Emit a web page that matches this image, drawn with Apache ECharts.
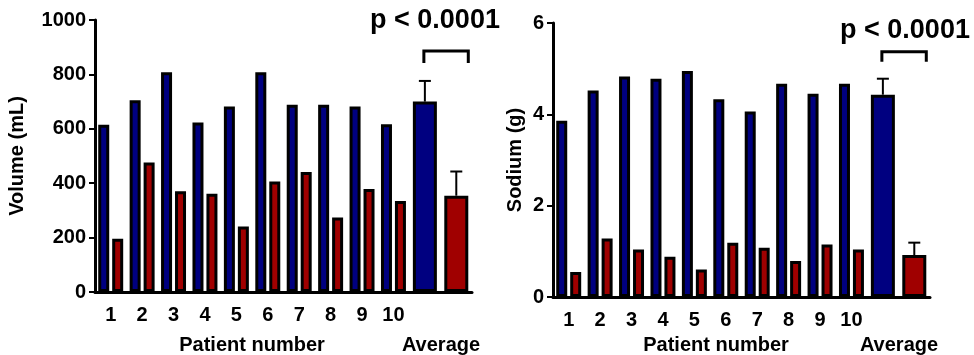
<!DOCTYPE html>
<html lang="en" style="height: 100%">
<head>
    <meta charset="UTF-8">
    <title>Volume and sodium per patient</title>
    <script src="https://cdn.jsdelivr.net/npm/echarts@6/dist/echarts.min.js"></script>
</head>
<body style="height: 100%; margin: 0; background: #fff">
<div id="main" style="width: 974px; height: 355px"></div>
<script>
    // patients 1..10 then two slots for the averages
    var patients = ['1', '2', '3', '4', '5', '6', '7', '8', '9', '10'];
    var categories = patients.concat(['', '']);

    var volumeBlue = [615, 705, 808, 623, 682, 808, 688, 688, 682, 617];
    var volumeRed = [196, 476, 370, 361, 241, 406, 441, 274, 379, 335];
    var volumeAvg = [700, 354];
    var volumeSd = [76, 89];
    var volumeBracket = [886, 842];

    var sodiumBlue = [3.86, 4.52, 4.83, 4.78, 4.95, 4.33, 4.06, 4.67, 4.45, 4.67];
    var sodiumRed = [0.55, 1.28, 1.04, 0.88, 0.60, 1.19, 1.08, 0.79, 1.15, 1.04];
    var sodiumAvg = [4.43, 0.92];
    var sodiumSd = [0.35, 0.27];
    var sodiumBracket = [5.37, 5.15];

    var pText = 'p < 0.0001';

    var BLUE = '#000080', RED = '#a00000';
    var FONT = 'Liberation Sans';

    function renderErr(params, api) {
        var base = api.coord([api.value(0), api.value(1)]);
        var top = api.coord([api.value(0), api.value(2)]);
        return {
            type: 'group',
            children: [
                {type: 'line', shape: {x1: base[0], y1: base[1], x2: top[0], y2: top[1]}, style: {stroke: '#000', lineWidth: 2}},
                {type: 'line', shape: {x1: top[0] - 6, y1: top[1], x2: top[0] + 6, y2: top[1]}, style: {stroke: '#000', lineWidth: 2}}
            ]
        };
    }

    function renderBracket(params, api) {
        var a = api.coord([api.value(0), api.value(2)]);
        var b = api.coord([api.value(1), api.value(2)]);
        var foot = api.coord([api.value(0), api.value(3)]);
        var x1 = a[0] - 1, x2 = b[0] + 12;
        return {
            type: 'polyline',
            shape: {points: [[x1, foot[1]], [x1, a[1]], [x2, a[1]], [x2, foot[1]]]},
            style: {stroke: '#000', lineWidth: 3, fill: null}
        };
    }

    var xAxes = [], yAxes = [], series = [];

    function addPanel(gi, opts) {
        xAxes.push({
            type: 'category', gridIndex: gi, data: categories,
            axisLine: {lineStyle: {color: '#000', width: 3}},
            axisTick: {alignWithLabel: true, interval: 0, length: 5, lineStyle: {color: '#000', width: 2}},
            axisLabel: {interval: 0, color: '#000', fontFamily: FONT, fontWeight: 'bold', fontSize: 20, margin: 13}
        });
        xAxes.push({type: 'category', gridIndex: gi, data: categories, show: false});
        yAxes.push({
            type: 'value', gridIndex: gi, min: 0, max: opts.max, interval: opts.interval,
            name: opts.name, nameLocation: 'middle', nameGap: opts.nameGap,
            nameTextStyle: {color: '#000', fontFamily: FONT, fontWeight: 'bold', fontSize: 20},
            splitLine: {show: false},
            axisLine: {show: true, lineStyle: {color: '#000', width: 3}},
            axisTick: {show: true, length: 6, lineStyle: {color: '#000', width: 2}},
            axisLabel: {color: '#000', fontFamily: FONT, fontWeight: 'bold', fontSize: 20, margin: 9,
                formatter: function (v) { return String(v); }}
        });
        var px = 2 * gi, ax = 2 * gi + 1;
        series.push({
            type: 'bar', xAxisIndex: px, yAxisIndex: gi, data: opts.blue,
            barWidth: 11, barGap: '27%',
            itemStyle: {color: BLUE, borderColor: '#000', borderWidth: 3}
        });
        series.push({
            type: 'bar', xAxisIndex: px, yAxisIndex: gi, data: opts.red,
            barWidth: 11, barGap: '27%',
            itemStyle: {color: RED, borderColor: '#000', borderWidth: 3}
        });
        series.push({
            type: 'bar', xAxisIndex: ax, yAxisIndex: gi,
            data: categories.map(function (c, i) { return i === 10 ? opts.avg[0] : '-'; }),
            barWidth: 24, barGap: '-100%',
            itemStyle: {color: BLUE, borderColor: '#000', borderWidth: 3}
        });
        series.push({
            type: 'bar', xAxisIndex: ax, yAxisIndex: gi,
            data: categories.map(function (c, i) { return i === 11 ? opts.avg[1] : '-'; }),
            barWidth: 24, barGap: '-100%',
            itemStyle: {color: RED, borderColor: '#000', borderWidth: 3}
        });
        series.push({
            type: 'custom', xAxisIndex: ax, yAxisIndex: gi, renderItem: renderErr,
            encode: {x: 0, y: [1, 2]},
            data: [[10, opts.avg[0], opts.avg[0] + opts.sd[0]], [11, opts.avg[1], opts.avg[1] + opts.sd[1]]],
            z: 5
        });
        series.push({
            type: 'custom', xAxisIndex: ax, yAxisIndex: gi, renderItem: renderBracket,
            encode: {x: [0, 1], y: [2, 3]},
            data: [[10, 11, opts.bracket[0], opts.bracket[1]]]
        });
    }

    addPanel(0, {max: 1000, interval: 200, name: 'Volume (mL)', nameGap: 68,
        blue: volumeBlue, red: volumeRed, avg: volumeAvg, sd: volumeSd, bracket: volumeBracket});
    addPanel(1, {max: 6, interval: 2, name: 'Sodium (g)', nameGap: 28,
        blue: sodiumBlue, red: sodiumRed, avg: sodiumAvg, sd: sodiumSd, bracket: sodiumBracket});

    function label(x, y, text, size) {
        return {
            type: 'text', x: x, y: y,
            style: {text: text, fill: '#000', font: 'bold ' + size + 'px "' + FONT + '"',
                textAlign: 'center', textVerticalAlign: 'middle'}
        };
    }

    var myoption = {
        animation: false,
        backgroundColor: '#fff',
        grid: [
            {left: 95, top: 20, width: 377, height: 272},
            {left: 553, top: 23, width: 377, height: 274}
        ],
        xAxis: xAxes,
        yAxis: yAxes,
        series: series,
        graphic: [
            label(252, 345, 'Patient number', 20),
            label(441, 345, 'Average', 20),
            label(716, 345, 'Patient number', 20),
            label(899, 345, 'Average', 20),
            label(435, 21, pText, 27),
            label(905, 31, pText, 27)
        ]
    };
    var myChart = echarts.init(document.getElementById('main'));
    myChart.setOption(myoption);
</script>
</body>
</html>
